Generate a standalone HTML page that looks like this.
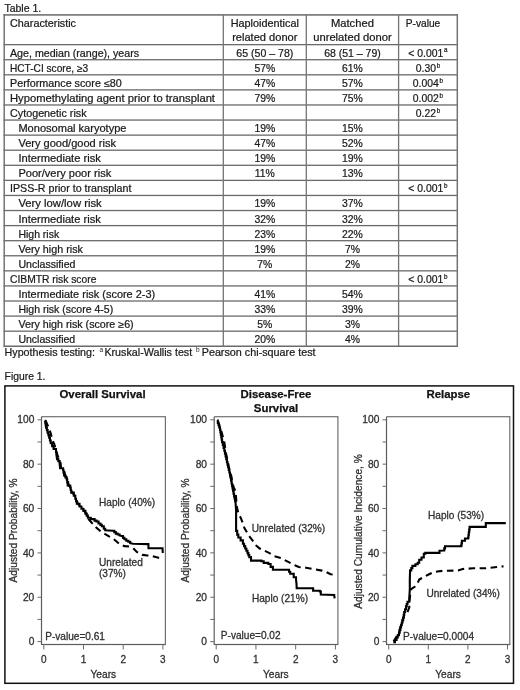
<!DOCTYPE html>
<html><head><meta charset="utf-8"><title>Table 1 and Figure 1</title>
<style>
html,body{margin:0;padding:0;background:#fff;}
body{width:520px;height:690px;overflow:hidden;}
svg{display:block;font-family:"Liberation Sans", sans-serif;will-change:transform;}
</style></head>
<body>
<svg width="520" height="690" viewBox="0 0 520 690">
<rect width="520" height="690" fill="#fff"/>
<rect x="3.5" y="14.05" width="454.5" height="1.7" fill="#7a7a7a"/>
<rect x="3.5" y="44.00" width="454.5" height="1.3" fill="#6a6a6a"/>
<rect x="3.5" y="59.08" width="454.5" height="1.3" fill="#6a6a6a"/>
<rect x="3.5" y="74.16" width="454.5" height="1.3" fill="#6a6a6a"/>
<rect x="3.5" y="89.24" width="454.5" height="1.3" fill="#6a6a6a"/>
<rect x="3.5" y="104.32" width="454.5" height="1.3" fill="#6a6a6a"/>
<rect x="3.5" y="119.40" width="454.5" height="1.3" fill="#6a6a6a"/>
<rect x="3.5" y="134.48" width="454.5" height="1.3" fill="#6a6a6a"/>
<rect x="3.5" y="149.56" width="454.5" height="1.3" fill="#6a6a6a"/>
<rect x="3.5" y="164.64" width="454.5" height="1.3" fill="#6a6a6a"/>
<rect x="3.5" y="179.72" width="454.5" height="1.3" fill="#6a6a6a"/>
<rect x="3.5" y="194.80" width="454.5" height="1.3" fill="#6a6a6a"/>
<rect x="3.5" y="209.88" width="454.5" height="1.3" fill="#6a6a6a"/>
<rect x="3.5" y="224.96" width="454.5" height="1.3" fill="#6a6a6a"/>
<rect x="3.5" y="240.04" width="454.5" height="1.3" fill="#6a6a6a"/>
<rect x="3.5" y="255.12" width="454.5" height="1.3" fill="#6a6a6a"/>
<rect x="3.5" y="270.20" width="454.5" height="1.3" fill="#6a6a6a"/>
<rect x="3.5" y="285.28" width="454.5" height="1.3" fill="#6a6a6a"/>
<rect x="3.5" y="300.36" width="454.5" height="1.3" fill="#6a6a6a"/>
<rect x="3.5" y="315.44" width="454.5" height="1.3" fill="#6a6a6a"/>
<rect x="3.5" y="330.52" width="454.5" height="1.3" fill="#6a6a6a"/>
<rect x="3.5" y="345.50" width="454.5" height="1.5" fill="#6a6a6a"/>
<rect x="222.65" y="14.9" width="1.3" height="331.35" fill="#747474"/>
<rect x="305.65" y="14.9" width="1.3" height="331.35" fill="#747474"/>
<rect x="397.95" y="14.9" width="1.3" height="331.35" fill="#747474"/>
<rect x="3.45" y="14.0" width="1.5" height="333.05" fill="#747474"/>
<rect x="456.55" y="14.0" width="1.5" height="333.05" fill="#747474"/>
<text x="10" y="26.6" font-size="10.1" text-anchor="start" fill="#1a1a1a" font-weight="normal" textLength="66" lengthAdjust="spacingAndGlyphs" stroke="#1a1a1a" stroke-width="0.22">Characteristic</text>
<text x="264.8" y="26.6" font-size="10.1" text-anchor="middle" fill="#1a1a1a" font-weight="normal" textLength="68.2" lengthAdjust="spacingAndGlyphs" stroke="#1a1a1a" stroke-width="0.22">Haploidentical</text>
<text x="264.8" y="41.2" font-size="10.1" text-anchor="middle" fill="#1a1a1a" font-weight="normal" textLength="65.3" lengthAdjust="spacingAndGlyphs" stroke="#1a1a1a" stroke-width="0.22">related donor</text>
<text x="352.45000000000005" y="26.6" font-size="10.1" text-anchor="middle" fill="#1a1a1a" font-weight="normal" textLength="43" lengthAdjust="spacingAndGlyphs" stroke="#1a1a1a" stroke-width="0.22">Matched</text>
<text x="352.45000000000005" y="41.2" font-size="10.1" text-anchor="middle" fill="#1a1a1a" font-weight="normal" textLength="78.5" lengthAdjust="spacingAndGlyphs" stroke="#1a1a1a" stroke-width="0.22">unrelated donor</text>
<text x="405.7" y="26.6" font-size="10.1" text-anchor="start" fill="#1a1a1a" font-weight="normal" textLength="34.6" lengthAdjust="spacingAndGlyphs" stroke="#1a1a1a" stroke-width="0.22">P-value</text>
<text x="10" y="56.65" font-size="10.1" text-anchor="start" fill="#1a1a1a" font-weight="normal" textLength="129.1" lengthAdjust="spacingAndGlyphs" stroke="#1a1a1a" stroke-width="0.22">Age, median (range), years</text>
<text x="264.8" y="56.65" font-size="10.4" text-anchor="middle" fill="#1a1a1a" font-weight="normal" textLength="57.1" lengthAdjust="spacingAndGlyphs" stroke="#1a1a1a" stroke-width="0.22">65 (50 – 78)</text>
<text x="352.45000000000005" y="56.65" font-size="10.4" text-anchor="middle" fill="#1a1a1a" font-weight="normal" textLength="56.6" lengthAdjust="spacingAndGlyphs" stroke="#1a1a1a" stroke-width="0.22">68 (51 – 79)</text>
<text x="427.95000000000005" y="56.65" font-size="10.4" text-anchor="middle" fill="#1a1a1a" font-weight="normal" stroke="#1a1a1a" stroke-width="0.22">&lt; 0.001<tspan dx="0.7" dy="-4.2" font-size="6.3">a</tspan></text>
<text x="10" y="71.73" font-size="10.1" text-anchor="start" fill="#1a1a1a" font-weight="normal" textLength="78.1" lengthAdjust="spacingAndGlyphs" stroke="#1a1a1a" stroke-width="0.22">HCT-CI score, ≥3</text>
<text x="264.8" y="71.73" font-size="10.4" text-anchor="middle" fill="#1a1a1a" font-weight="normal" stroke="#1a1a1a" stroke-width="0.22">57%</text>
<text x="352.45000000000005" y="71.73" font-size="10.4" text-anchor="middle" fill="#1a1a1a" font-weight="normal" stroke="#1a1a1a" stroke-width="0.22">61%</text>
<text x="427.95000000000005" y="71.73" font-size="10.4" text-anchor="middle" fill="#1a1a1a" font-weight="normal" stroke="#1a1a1a" stroke-width="0.22">0.30<tspan dx="0.7" dy="-4.2" font-size="6.3">b</tspan></text>
<text x="10" y="86.81" font-size="10.1" text-anchor="start" fill="#1a1a1a" font-weight="normal" textLength="111.8" lengthAdjust="spacingAndGlyphs" stroke="#1a1a1a" stroke-width="0.22">Performance score ≤80</text>
<text x="264.8" y="86.81" font-size="10.4" text-anchor="middle" fill="#1a1a1a" font-weight="normal" stroke="#1a1a1a" stroke-width="0.22">47%</text>
<text x="352.45000000000005" y="86.81" font-size="10.4" text-anchor="middle" fill="#1a1a1a" font-weight="normal" stroke="#1a1a1a" stroke-width="0.22">57%</text>
<text x="427.95000000000005" y="86.81" font-size="10.4" text-anchor="middle" fill="#1a1a1a" font-weight="normal" stroke="#1a1a1a" stroke-width="0.22">0.004<tspan dx="0.7" dy="-4.2" font-size="6.3">b</tspan></text>
<text x="10" y="101.89" font-size="10.1" text-anchor="start" fill="#1a1a1a" font-weight="normal" textLength="205" lengthAdjust="spacingAndGlyphs" stroke="#1a1a1a" stroke-width="0.22">Hypomethylating agent prior to transplant</text>
<text x="264.8" y="101.89" font-size="10.4" text-anchor="middle" fill="#1a1a1a" font-weight="normal" stroke="#1a1a1a" stroke-width="0.22">79%</text>
<text x="352.45000000000005" y="101.89" font-size="10.4" text-anchor="middle" fill="#1a1a1a" font-weight="normal" stroke="#1a1a1a" stroke-width="0.22">75%</text>
<text x="427.95000000000005" y="101.89" font-size="10.4" text-anchor="middle" fill="#1a1a1a" font-weight="normal" stroke="#1a1a1a" stroke-width="0.22">0.002<tspan dx="0.7" dy="-4.2" font-size="6.3">b</tspan></text>
<text x="10" y="116.97" font-size="10.1" text-anchor="start" fill="#1a1a1a" font-weight="normal" textLength="76.6" lengthAdjust="spacingAndGlyphs" stroke="#1a1a1a" stroke-width="0.22">Cytogenetic risk</text>
<text x="427.95000000000005" y="116.97" font-size="10.4" text-anchor="middle" fill="#1a1a1a" font-weight="normal" stroke="#1a1a1a" stroke-width="0.22">0.22<tspan dx="0.7" dy="-4.2" font-size="6.3">b</tspan></text>
<text x="18.4" y="132.05" font-size="10.1" text-anchor="start" fill="#1a1a1a" font-weight="normal" textLength="108.1" lengthAdjust="spacingAndGlyphs" stroke="#1a1a1a" stroke-width="0.22">Monosomal karyotype</text>
<text x="264.8" y="132.05" font-size="10.4" text-anchor="middle" fill="#1a1a1a" font-weight="normal" stroke="#1a1a1a" stroke-width="0.22">19%</text>
<text x="352.45000000000005" y="132.05" font-size="10.4" text-anchor="middle" fill="#1a1a1a" font-weight="normal" stroke="#1a1a1a" stroke-width="0.22">15%</text>
<text x="18.4" y="147.13" font-size="10.1" text-anchor="start" fill="#1a1a1a" font-weight="normal" textLength="97.6" lengthAdjust="spacingAndGlyphs" stroke="#1a1a1a" stroke-width="0.22">Very good/good risk</text>
<text x="264.8" y="147.13" font-size="10.4" text-anchor="middle" fill="#1a1a1a" font-weight="normal" stroke="#1a1a1a" stroke-width="0.22">47%</text>
<text x="352.45000000000005" y="147.13" font-size="10.4" text-anchor="middle" fill="#1a1a1a" font-weight="normal" stroke="#1a1a1a" stroke-width="0.22">52%</text>
<text x="18.4" y="162.21" font-size="10.1" text-anchor="start" fill="#1a1a1a" font-weight="normal" textLength="82.5" lengthAdjust="spacingAndGlyphs" stroke="#1a1a1a" stroke-width="0.22">Intermediate risk</text>
<text x="264.8" y="162.21" font-size="10.4" text-anchor="middle" fill="#1a1a1a" font-weight="normal" stroke="#1a1a1a" stroke-width="0.22">19%</text>
<text x="352.45000000000005" y="162.21" font-size="10.4" text-anchor="middle" fill="#1a1a1a" font-weight="normal" stroke="#1a1a1a" stroke-width="0.22">19%</text>
<text x="18.4" y="177.29" font-size="10.1" text-anchor="start" fill="#1a1a1a" font-weight="normal" textLength="92.8" lengthAdjust="spacingAndGlyphs" stroke="#1a1a1a" stroke-width="0.22">Poor/very poor risk</text>
<text x="264.8" y="177.29" font-size="10.4" text-anchor="middle" fill="#1a1a1a" font-weight="normal" stroke="#1a1a1a" stroke-width="0.22">11%</text>
<text x="352.45000000000005" y="177.29" font-size="10.4" text-anchor="middle" fill="#1a1a1a" font-weight="normal" stroke="#1a1a1a" stroke-width="0.22">13%</text>
<text x="10" y="192.37" font-size="10.1" text-anchor="start" fill="#1a1a1a" font-weight="normal" textLength="121.4" lengthAdjust="spacingAndGlyphs" stroke="#1a1a1a" stroke-width="0.22">IPSS-R prior to transplant</text>
<text x="427.95000000000005" y="192.37" font-size="10.4" text-anchor="middle" fill="#1a1a1a" font-weight="normal" stroke="#1a1a1a" stroke-width="0.22">&lt; 0.001<tspan dx="0.7" dy="-4.2" font-size="6.3">b</tspan></text>
<text x="18.4" y="207.45" font-size="10.1" text-anchor="start" fill="#1a1a1a" font-weight="normal" textLength="83.3" lengthAdjust="spacingAndGlyphs" stroke="#1a1a1a" stroke-width="0.22">Very low/low risk</text>
<text x="264.8" y="207.45" font-size="10.4" text-anchor="middle" fill="#1a1a1a" font-weight="normal" stroke="#1a1a1a" stroke-width="0.22">19%</text>
<text x="352.45000000000005" y="207.45" font-size="10.4" text-anchor="middle" fill="#1a1a1a" font-weight="normal" stroke="#1a1a1a" stroke-width="0.22">37%</text>
<text x="18.4" y="222.53" font-size="10.1" text-anchor="start" fill="#1a1a1a" font-weight="normal" textLength="82.5" lengthAdjust="spacingAndGlyphs" stroke="#1a1a1a" stroke-width="0.22">Intermediate risk</text>
<text x="264.8" y="222.53" font-size="10.4" text-anchor="middle" fill="#1a1a1a" font-weight="normal" stroke="#1a1a1a" stroke-width="0.22">32%</text>
<text x="352.45000000000005" y="222.53" font-size="10.4" text-anchor="middle" fill="#1a1a1a" font-weight="normal" stroke="#1a1a1a" stroke-width="0.22">32%</text>
<text x="18.4" y="237.61" font-size="10.1" text-anchor="start" fill="#1a1a1a" font-weight="normal" textLength="40.8" lengthAdjust="spacingAndGlyphs" stroke="#1a1a1a" stroke-width="0.22">High risk</text>
<text x="264.8" y="237.61" font-size="10.4" text-anchor="middle" fill="#1a1a1a" font-weight="normal" stroke="#1a1a1a" stroke-width="0.22">23%</text>
<text x="352.45000000000005" y="237.61" font-size="10.4" text-anchor="middle" fill="#1a1a1a" font-weight="normal" stroke="#1a1a1a" stroke-width="0.22">22%</text>
<text x="18.4" y="252.69" font-size="10.1" text-anchor="start" fill="#1a1a1a" font-weight="normal" textLength="64.5" lengthAdjust="spacingAndGlyphs" stroke="#1a1a1a" stroke-width="0.22">Very high risk</text>
<text x="264.8" y="252.69" font-size="10.4" text-anchor="middle" fill="#1a1a1a" font-weight="normal" stroke="#1a1a1a" stroke-width="0.22">19%</text>
<text x="352.45000000000005" y="252.69" font-size="10.4" text-anchor="middle" fill="#1a1a1a" font-weight="normal" stroke="#1a1a1a" stroke-width="0.22">7%</text>
<text x="18.4" y="267.77" font-size="10.1" text-anchor="start" fill="#1a1a1a" font-weight="normal" textLength="57.0" lengthAdjust="spacingAndGlyphs" stroke="#1a1a1a" stroke-width="0.22">Unclassified</text>
<text x="264.8" y="267.77" font-size="10.4" text-anchor="middle" fill="#1a1a1a" font-weight="normal" stroke="#1a1a1a" stroke-width="0.22">7%</text>
<text x="352.45000000000005" y="267.77" font-size="10.4" text-anchor="middle" fill="#1a1a1a" font-weight="normal" stroke="#1a1a1a" stroke-width="0.22">2%</text>
<text x="10" y="282.85" font-size="10.1" text-anchor="start" fill="#1a1a1a" font-weight="normal" textLength="86.4" lengthAdjust="spacingAndGlyphs" stroke="#1a1a1a" stroke-width="0.22">CIBMTR risk score</text>
<text x="427.95000000000005" y="282.85" font-size="10.4" text-anchor="middle" fill="#1a1a1a" font-weight="normal" stroke="#1a1a1a" stroke-width="0.22">&lt; 0.001<tspan dx="0.7" dy="-4.2" font-size="6.3">b</tspan></text>
<text x="18.4" y="297.93" font-size="10.1" text-anchor="start" fill="#1a1a1a" font-weight="normal" textLength="136.8" lengthAdjust="spacingAndGlyphs" stroke="#1a1a1a" stroke-width="0.22">Intermediate risk (score 2-3)</text>
<text x="264.8" y="297.93" font-size="10.4" text-anchor="middle" fill="#1a1a1a" font-weight="normal" stroke="#1a1a1a" stroke-width="0.22">41%</text>
<text x="352.45000000000005" y="297.93" font-size="10.4" text-anchor="middle" fill="#1a1a1a" font-weight="normal" stroke="#1a1a1a" stroke-width="0.22">54%</text>
<text x="18.4" y="313.01" font-size="10.1" text-anchor="start" fill="#1a1a1a" font-weight="normal" textLength="94.8" lengthAdjust="spacingAndGlyphs" stroke="#1a1a1a" stroke-width="0.22">High risk (score 4-5)</text>
<text x="264.8" y="313.01" font-size="10.4" text-anchor="middle" fill="#1a1a1a" font-weight="normal" stroke="#1a1a1a" stroke-width="0.22">33%</text>
<text x="352.45000000000005" y="313.01" font-size="10.4" text-anchor="middle" fill="#1a1a1a" font-weight="normal" stroke="#1a1a1a" stroke-width="0.22">39%</text>
<text x="18.4" y="328.09" font-size="10.1" text-anchor="start" fill="#1a1a1a" font-weight="normal" textLength="115.3" lengthAdjust="spacingAndGlyphs" stroke="#1a1a1a" stroke-width="0.22">Very high risk (score ≥6)</text>
<text x="264.8" y="328.09" font-size="10.4" text-anchor="middle" fill="#1a1a1a" font-weight="normal" stroke="#1a1a1a" stroke-width="0.22">5%</text>
<text x="352.45000000000005" y="328.09" font-size="10.4" text-anchor="middle" fill="#1a1a1a" font-weight="normal" stroke="#1a1a1a" stroke-width="0.22">3%</text>
<text x="18.4" y="343.17" font-size="10.1" text-anchor="start" fill="#1a1a1a" font-weight="normal" textLength="56.8" lengthAdjust="spacingAndGlyphs" stroke="#1a1a1a" stroke-width="0.22">Unclassified</text>
<text x="264.8" y="343.17" font-size="10.4" text-anchor="middle" fill="#1a1a1a" font-weight="normal" stroke="#1a1a1a" stroke-width="0.22">20%</text>
<text x="352.45000000000005" y="343.17" font-size="10.4" text-anchor="middle" fill="#1a1a1a" font-weight="normal" stroke="#1a1a1a" stroke-width="0.22">4%</text>
<text x="4.6" y="355.6" font-size="10.1" text-anchor="start" fill="#1a1a1a" font-weight="normal" textLength="90.4" lengthAdjust="spacingAndGlyphs" stroke="#1a1a1a" stroke-width="0.22">Hypothesis testing:</text>
<text x="99.6" y="352.0" font-size="6.5" text-anchor="start" fill="#1a1a1a" font-weight="normal" >a</text>
<text x="104.4" y="355.6" font-size="10.1" text-anchor="start" fill="#1a1a1a" font-weight="normal" textLength="87.8" lengthAdjust="spacingAndGlyphs" stroke="#1a1a1a" stroke-width="0.22">Kruskal-Wallis test</text>
<text x="196.1" y="352.0" font-size="6.5" text-anchor="start" fill="#1a1a1a" font-weight="normal" >b</text>
<text x="201.7" y="355.6" font-size="10.1" text-anchor="start" fill="#1a1a1a" font-weight="normal" textLength="113.9" lengthAdjust="spacingAndGlyphs" stroke="#1a1a1a" stroke-width="0.22">Pearson chi-square test</text>
<text x="4.4" y="11.5" font-size="10.1" text-anchor="start" fill="#1a1a1a" font-weight="normal" textLength="36.9" lengthAdjust="spacingAndGlyphs" stroke="#1a1a1a" stroke-width="0.22">Table 1.</text>
<text x="4.6" y="379.8" font-size="10.1" text-anchor="start" fill="#1a1a1a" font-weight="normal" textLength="40.8" lengthAdjust="spacingAndGlyphs" stroke="#1a1a1a" stroke-width="0.22">Figure 1.</text>
<rect x="4.9" y="385.9" width="508.6" height="297.4" fill="none" stroke="#111" stroke-width="1.5"/>
<rect x="40.90" y="416.7" width="1.2" height="228.3" fill="#5c5c5c"/>
<rect x="41.5" y="643.90" width="124.4" height="1.2" fill="#5c5c5c"/>
<rect x="41.5" y="416.10" width="124.4" height="1.2" fill="#707070"/>
<rect x="164.80" y="416.7" width="1.2" height="227.8" fill="#707070"/>
<rect x="37.5" y="641.10" width="4.0" height="1.0" fill="#6a6a6a"/>
<text x="34.3" y="645.2" font-size="10.2" text-anchor="end" fill="#333" font-weight="normal"  stroke="#2a2a2a" stroke-width="0.28">0</text>
<rect x="37.5" y="618.92" width="4.0" height="1.0" fill="#6a6a6a"/>
<rect x="37.5" y="596.74" width="4.0" height="1.0" fill="#6a6a6a"/>
<text x="34.3" y="600.8" font-size="10.2" text-anchor="end" fill="#333" font-weight="normal"  stroke="#2a2a2a" stroke-width="0.28">20</text>
<rect x="37.5" y="574.56" width="4.0" height="1.0" fill="#6a6a6a"/>
<rect x="37.5" y="552.38" width="4.0" height="1.0" fill="#6a6a6a"/>
<text x="34.3" y="556.5" font-size="10.2" text-anchor="end" fill="#333" font-weight="normal"  stroke="#2a2a2a" stroke-width="0.28">40</text>
<rect x="37.5" y="530.20" width="4.0" height="1.0" fill="#6a6a6a"/>
<rect x="37.5" y="508.02" width="4.0" height="1.0" fill="#6a6a6a"/>
<text x="34.3" y="512.1" font-size="10.2" text-anchor="end" fill="#333" font-weight="normal"  stroke="#2a2a2a" stroke-width="0.28">60</text>
<rect x="37.5" y="485.84" width="4.0" height="1.0" fill="#6a6a6a"/>
<rect x="37.5" y="463.66" width="4.0" height="1.0" fill="#6a6a6a"/>
<text x="34.3" y="467.8" font-size="10.2" text-anchor="end" fill="#333" font-weight="normal"  stroke="#2a2a2a" stroke-width="0.28">80</text>
<rect x="37.5" y="441.48" width="4.0" height="1.0" fill="#6a6a6a"/>
<rect x="37.5" y="419.30" width="4.0" height="1.0" fill="#6a6a6a"/>
<text x="34.3" y="423.4" font-size="10.2" text-anchor="end" fill="#333" font-weight="normal"  stroke="#2a2a2a" stroke-width="0.28">100</text>
<rect x="43.30" y="644.5" width="1.0" height="5.0" fill="#6a6a6a"/>
<text x="43.8" y="662.6" font-size="10.0" text-anchor="middle" fill="#333" font-weight="normal"  stroke="#2a2a2a" stroke-width="0.28">0</text>
<rect x="83.00" y="644.5" width="1.0" height="5.0" fill="#6a6a6a"/>
<text x="83.5" y="662.6" font-size="10.0" text-anchor="middle" fill="#333" font-weight="normal"  stroke="#2a2a2a" stroke-width="0.28">1</text>
<rect x="122.70" y="644.5" width="1.0" height="5.0" fill="#6a6a6a"/>
<text x="123.2" y="662.6" font-size="10.0" text-anchor="middle" fill="#333" font-weight="normal"  stroke="#2a2a2a" stroke-width="0.28">2</text>
<rect x="162.40" y="644.5" width="1.0" height="5.0" fill="#6a6a6a"/>
<text x="162.9" y="662.6" font-size="10.0" text-anchor="middle" fill="#333" font-weight="normal"  stroke="#2a2a2a" stroke-width="0.28">3</text>
<text x="103.3" y="677.9" font-size="10.2" text-anchor="middle" fill="#333" font-weight="normal"  stroke="#2a2a2a" stroke-width="0.28">Years</text>
<rect x="213.60" y="416.7" width="1.2" height="228.3" fill="#5c5c5c"/>
<rect x="214.2" y="643.90" width="124.19999999999999" height="1.2" fill="#5c5c5c"/>
<rect x="214.2" y="416.10" width="124.19999999999999" height="1.2" fill="#707070"/>
<rect x="337.30" y="416.7" width="1.2" height="227.8" fill="#707070"/>
<rect x="210.2" y="641.10" width="4.0" height="1.0" fill="#6a6a6a"/>
<text x="207.0" y="645.2" font-size="10.2" text-anchor="end" fill="#333" font-weight="normal"  stroke="#2a2a2a" stroke-width="0.28">0</text>
<rect x="210.2" y="618.92" width="4.0" height="1.0" fill="#6a6a6a"/>
<rect x="210.2" y="596.74" width="4.0" height="1.0" fill="#6a6a6a"/>
<text x="207.0" y="600.8" font-size="10.2" text-anchor="end" fill="#333" font-weight="normal"  stroke="#2a2a2a" stroke-width="0.28">20</text>
<rect x="210.2" y="574.56" width="4.0" height="1.0" fill="#6a6a6a"/>
<rect x="210.2" y="552.38" width="4.0" height="1.0" fill="#6a6a6a"/>
<text x="207.0" y="556.5" font-size="10.2" text-anchor="end" fill="#333" font-weight="normal"  stroke="#2a2a2a" stroke-width="0.28">40</text>
<rect x="210.2" y="530.20" width="4.0" height="1.0" fill="#6a6a6a"/>
<rect x="210.2" y="508.02" width="4.0" height="1.0" fill="#6a6a6a"/>
<text x="207.0" y="512.1" font-size="10.2" text-anchor="end" fill="#333" font-weight="normal"  stroke="#2a2a2a" stroke-width="0.28">60</text>
<rect x="210.2" y="485.84" width="4.0" height="1.0" fill="#6a6a6a"/>
<rect x="210.2" y="463.66" width="4.0" height="1.0" fill="#6a6a6a"/>
<text x="207.0" y="467.8" font-size="10.2" text-anchor="end" fill="#333" font-weight="normal"  stroke="#2a2a2a" stroke-width="0.28">80</text>
<rect x="210.2" y="441.48" width="4.0" height="1.0" fill="#6a6a6a"/>
<rect x="210.2" y="419.30" width="4.0" height="1.0" fill="#6a6a6a"/>
<text x="207.0" y="423.4" font-size="10.2" text-anchor="end" fill="#333" font-weight="normal"  stroke="#2a2a2a" stroke-width="0.28">100</text>
<rect x="215.70" y="644.5" width="1.0" height="5.0" fill="#6a6a6a"/>
<text x="216.2" y="662.6" font-size="10.0" text-anchor="middle" fill="#333" font-weight="normal"  stroke="#2a2a2a" stroke-width="0.28">0</text>
<rect x="255.43" y="644.5" width="1.0" height="5.0" fill="#6a6a6a"/>
<text x="255.9" y="662.6" font-size="10.0" text-anchor="middle" fill="#333" font-weight="normal"  stroke="#2a2a2a" stroke-width="0.28">1</text>
<rect x="295.17" y="644.5" width="1.0" height="5.0" fill="#6a6a6a"/>
<text x="295.7" y="662.6" font-size="10.0" text-anchor="middle" fill="#333" font-weight="normal"  stroke="#2a2a2a" stroke-width="0.28">2</text>
<rect x="334.90" y="644.5" width="1.0" height="5.0" fill="#6a6a6a"/>
<text x="335.4" y="662.6" font-size="10.0" text-anchor="middle" fill="#333" font-weight="normal"  stroke="#2a2a2a" stroke-width="0.28">3</text>
<text x="275.8" y="677.9" font-size="10.2" text-anchor="middle" fill="#333" font-weight="normal"  stroke="#2a2a2a" stroke-width="0.28">Years</text>
<rect x="385.90" y="416.7" width="1.2" height="228.3" fill="#5c5c5c"/>
<rect x="386.5" y="643.90" width="123.80000000000001" height="1.2" fill="#5c5c5c"/>
<rect x="386.5" y="416.10" width="123.80000000000001" height="1.2" fill="#707070"/>
<rect x="509.20" y="416.7" width="1.2" height="227.8" fill="#707070"/>
<rect x="382.5" y="641.10" width="4.0" height="1.0" fill="#6a6a6a"/>
<text x="379.3" y="645.2" font-size="10.2" text-anchor="end" fill="#333" font-weight="normal"  stroke="#2a2a2a" stroke-width="0.28">0</text>
<rect x="382.5" y="618.92" width="4.0" height="1.0" fill="#6a6a6a"/>
<rect x="382.5" y="596.74" width="4.0" height="1.0" fill="#6a6a6a"/>
<text x="379.3" y="600.8" font-size="10.2" text-anchor="end" fill="#333" font-weight="normal"  stroke="#2a2a2a" stroke-width="0.28">20</text>
<rect x="382.5" y="574.56" width="4.0" height="1.0" fill="#6a6a6a"/>
<rect x="382.5" y="552.38" width="4.0" height="1.0" fill="#6a6a6a"/>
<text x="379.3" y="556.5" font-size="10.2" text-anchor="end" fill="#333" font-weight="normal"  stroke="#2a2a2a" stroke-width="0.28">40</text>
<rect x="382.5" y="530.20" width="4.0" height="1.0" fill="#6a6a6a"/>
<rect x="382.5" y="508.02" width="4.0" height="1.0" fill="#6a6a6a"/>
<text x="379.3" y="512.1" font-size="10.2" text-anchor="end" fill="#333" font-weight="normal"  stroke="#2a2a2a" stroke-width="0.28">60</text>
<rect x="382.5" y="485.84" width="4.0" height="1.0" fill="#6a6a6a"/>
<rect x="382.5" y="463.66" width="4.0" height="1.0" fill="#6a6a6a"/>
<text x="379.3" y="467.8" font-size="10.2" text-anchor="end" fill="#333" font-weight="normal"  stroke="#2a2a2a" stroke-width="0.28">80</text>
<rect x="382.5" y="441.48" width="4.0" height="1.0" fill="#6a6a6a"/>
<rect x="382.5" y="419.30" width="4.0" height="1.0" fill="#6a6a6a"/>
<text x="379.3" y="423.4" font-size="10.2" text-anchor="end" fill="#333" font-weight="normal"  stroke="#2a2a2a" stroke-width="0.28">100</text>
<rect x="388.20" y="644.5" width="1.0" height="5.0" fill="#6a6a6a"/>
<text x="388.7" y="662.6" font-size="10.0" text-anchor="middle" fill="#333" font-weight="normal"  stroke="#2a2a2a" stroke-width="0.28">0</text>
<rect x="427.80" y="644.5" width="1.0" height="5.0" fill="#6a6a6a"/>
<text x="428.3" y="662.6" font-size="10.0" text-anchor="middle" fill="#333" font-weight="normal"  stroke="#2a2a2a" stroke-width="0.28">1</text>
<rect x="467.40" y="644.5" width="1.0" height="5.0" fill="#6a6a6a"/>
<text x="467.9" y="662.6" font-size="10.0" text-anchor="middle" fill="#333" font-weight="normal"  stroke="#2a2a2a" stroke-width="0.28">2</text>
<rect x="507.00" y="644.5" width="1.0" height="5.0" fill="#6a6a6a"/>
<text x="507.5" y="662.6" font-size="10.0" text-anchor="middle" fill="#333" font-weight="normal"  stroke="#2a2a2a" stroke-width="0.28">3</text>
<text x="448.1" y="677.9" font-size="10.2" text-anchor="middle" fill="#333" font-weight="normal"  stroke="#2a2a2a" stroke-width="0.28">Years</text>
<text x="0" y="0" font-size="10.2" text-anchor="middle" fill="#333" font-weight="normal" transform="translate(16.7,530.5) rotate(-90)" stroke="#2a2a2a" stroke-width="0.28">Adjusted Probability, %</text>
<text x="0" y="0" font-size="10.2" text-anchor="middle" fill="#333" font-weight="normal" transform="translate(189.4,530.5) rotate(-90)" stroke="#2a2a2a" stroke-width="0.28">Adjusted Probability, %</text>
<text x="0" y="0" font-size="10.2" text-anchor="middle" fill="#333" font-weight="normal" transform="translate(362,531.5) rotate(-90)" stroke="#2a2a2a" stroke-width="0.28">Adjusted Cumulative Incidence, %</text>
<text x="102.5" y="398.2" font-size="11.4" text-anchor="middle" fill="#111" font-weight="bold"  stroke="#111" stroke-width="0.25">Overall Survival</text>
<text x="276" y="397.7" font-size="11.4" text-anchor="middle" fill="#111" font-weight="bold"  stroke="#111" stroke-width="0.25">Disease-Free</text>
<text x="276" y="411.6" font-size="11.4" text-anchor="middle" fill="#111" font-weight="bold"  stroke="#111" stroke-width="0.25">Survival</text>
<text x="448.3" y="398.4" font-size="11.4" text-anchor="middle" fill="#111" font-weight="bold"  stroke="#111" stroke-width="0.25">Relapse</text>
<text x="99" y="506.2" font-size="10.1" text-anchor="start" fill="#333" font-weight="normal"  stroke="#2a2a2a" stroke-width="0.28">Haplo (40%)</text>
<text x="99" y="565.9" font-size="10.1" text-anchor="start" fill="#333" font-weight="normal"  stroke="#2a2a2a" stroke-width="0.28">Unrelated</text>
<text x="99" y="576.6" font-size="10.1" text-anchor="start" fill="#333" font-weight="normal"  stroke="#2a2a2a" stroke-width="0.28">(37%)</text>
<text x="45.2" y="639.6" font-size="10.1" text-anchor="start" fill="#333" font-weight="normal"  stroke="#2a2a2a" stroke-width="0.28">P-value=0.61</text>
<text x="251.7" y="532.4" font-size="10.1" text-anchor="start" fill="#333" font-weight="normal"  stroke="#2a2a2a" stroke-width="0.28">Unrelated (32%)</text>
<text x="251.9" y="601.5" font-size="10.1" text-anchor="start" fill="#333" font-weight="normal"  stroke="#2a2a2a" stroke-width="0.28">Haplo (21%)</text>
<text x="220.8" y="638.8" font-size="10.1" text-anchor="start" fill="#333" font-weight="normal"  stroke="#2a2a2a" stroke-width="0.28">P-value=0.02</text>
<text x="428" y="519.2" font-size="10.1" text-anchor="start" fill="#333" font-weight="normal"  stroke="#2a2a2a" stroke-width="0.28">Haplo (53%)</text>
<text x="426.4" y="596.8" font-size="10.1" text-anchor="start" fill="#333" font-weight="normal"  stroke="#2a2a2a" stroke-width="0.28">Unrelated (34%)</text>
<text x="403" y="639.5" font-size="10.1" text-anchor="start" fill="#333" font-weight="normal"  stroke="#2a2a2a" stroke-width="0.28">P-value=0.0004</text>
<polyline points="45.5,420.5 47.2,424.1 49.5,429.9 50.7,433.4 52.4,440.3 54.2,443.8 55.9,449.6 57.5,455 60.6,463.2 61.1,468.3 64.1,470.3 65.1,475.4 67.7,479.4 68.7,485.5 71.2,487.5 72.2,492.6 74.8,495.7 76.3,498.7 77.8,503.8 80.5,506.5 84.4,510.9 86.4,514 88.8,519.5 91.5,522.5 94.6,525.4 96.5,527.8 100.9,531.6 104.2,533.6 109,536.4 112.9,538.4 116.3,541.3 119.6,544.1 124.4,546.1 129.2,546.5 133.1,548 136.8,552 142.6,554.9 147.5,555.5 152.7,556.3 158.5,557.8 163.5,558.5" fill="none" stroke="#000" stroke-width="2.1" stroke-linejoin="miter" stroke-linecap="butt" stroke-dasharray="6.5,4.5"/>
<polyline points="44.6,420.5 44.9,420.9 45.3,420.9 45.3,423.13 45.7,423.13 45.7,425.37 46.1,425.37 46.1,427.6 46.87,427.6 46.87,430.1 47.63,430.1 47.63,432.6 48.4,432.6 48.4,435.1 49.17,435.1 49.17,437.8 49.93,437.8 49.93,440.5 50.7,440.5 50.7,443.2 52.15,443.2 52.15,446.1 53.6,446.1 53.6,449.0 56.0,449.0 56.0,452.0 56.33,452.0 56.33,454.37 56.67,454.37 56.67,456.73 57.0,456.73 57.0,459.1 58.3,459.1 58.3,461.15 59.6,461.15 59.6,463.2 60.1,468.3 63.1,468.3 63.1,470.3 63.6,470.3 63.6,472.85 64.1,472.85 64.1,475.4 65.4,475.4 65.4,477.4 66.7,477.4 66.7,479.4 67.2,479.4 67.2,482.45 67.7,482.45 67.7,485.5 70.2,485.5 70.2,487.5 70.7,487.5 70.7,490.05 71.2,490.05 71.2,492.6 73.8,492.6 73.8,495.7 75.3,495.7 75.3,498.7 76.05,498.7 76.05,501.25 76.8,501.25 76.8,503.8 79.5,503.8 79.5,506.5 81.45,506.5 81.45,508.7 83.4,508.7 83.4,510.9 85.4,510.9 85.4,513.6 86.65,513.6 86.65,515.65 87.9,515.65 87.9,517.7 90.8,517.7 90.8,519.1 94.6,519.1 94.6,520.6 96.5,520.6 96.5,521.5 98.5,521.5 98.5,523.5 100.4,523.5 100.4,524.9 101.8,524.9 101.8,526.3 103.8,526.3 103.8,528.8 105.2,528.8 105.2,530.2 112.9,530.7 114.3,530.7 114.3,532.1 115.8,532.1 115.8,533.6 117.7,533.6 117.7,534.5 119.6,534.5 119.6,535.5 121.5,536 123.0,536.0 123.0,537.9 124.4,537.9 124.4,539.3 126.3,539.3 126.3,540.8 128.3,540.8 128.3,541.7 130.2,541.7 130.2,543.2 133.1,543.7 148.4,544.1 148.5,548.3 162.5,548.3 162.8,553" fill="none" stroke="#000" stroke-width="2.1" stroke-linejoin="miter" stroke-linecap="butt"/>
<polyline points="217.6,420.5 219.5,426 221.7,432.5 224.3,442.1 226,453.4 228.7,466.4 231.5,477 232.1,481.2 233.6,487.2 235.6,491.3 236.1,498.4 236.7,505.5 237.2,508.6 238.7,514.6 240.7,517.7 242.7,522.8 244.3,527.8 246.3,531.2 249.8,536.9 253.3,541.5 256.2,545.6 259.7,548.5 264.8,550.8 269.5,553.1 274.1,556 279.8,557.7 284.5,560 290.2,562.9 296,565.8 298.8,567 306.1,567.7 313.3,569.1 321.9,570.6 326.2,572 330.6,574.2 335.6,574.9" fill="none" stroke="#000" stroke-width="2.1" stroke-linejoin="miter" stroke-linecap="butt" stroke-dasharray="6.5,4.5"/>
<polyline points="217.1,420.5 217.82,420.5 217.82,422.85 218.55,422.85 218.55,425.2 219.28,425.2 219.28,427.55 220.0,427.55 220.0,429.9 220.42,429.9 220.42,432.34 220.84,432.34 220.84,434.78 221.26,434.78 221.26,437.22 221.68,437.22 221.68,439.66 222.1,439.66 222.1,442.1 222.83,442.1 222.83,445.0 223.57,445.0 223.57,447.9 224.3,447.9 224.3,450.8 224.95,450.8 224.95,453.62 225.6,453.62 225.6,456.45 226.25,456.45 226.25,459.28 226.9,459.28 226.9,462.1 227.52,462.1 227.52,464.7 228.14,464.7 228.14,467.3 228.76,467.3 228.76,469.9 229.38,469.9 229.38,472.5 230.0,472.5 230.0,475.1 230.6,478.1 231.1,478.1 231.1,480.8 231.6,480.8 231.6,483.5 232.1,483.5 232.1,486.2 232.6,486.2 232.6,488.75 233.1,488.75 233.1,491.3 233.6,491.3 233.6,493.85 234.1,493.85 234.1,496.4 234.6,496.4 234.6,498.77 235.1,498.77 235.1,501.13 235.6,501.13 235.6,503.5 236.1,510.6 236.1,530.9 237.2,530.9 237.2,534.6 238.3,534.6 238.3,537.5 240.6,537.5 240.6,540.4 242.9,540.4 242.9,543.8 244.05,543.8 244.05,546.15 245.2,546.15 245.2,548.5 246.35,548.5 246.35,550.8 247.5,550.8 247.5,553.1 248.4,553.1 248.4,555.1 249.3,555.1 249.3,557.1 251.0,557.1 251.0,560.6 261.4,560.6 261.4,561.2 263.7,561.2 263.7,562.9 268.3,562.9 268.3,564.0 270.6,564.0 270.6,566.9 272.9,566.9 272.9,569.8 287.9,569.8 289.05,569.8 289.05,571.8 290.2,571.8 290.2,573.8 293.7,573.8 293.7,577.3 296.0,577.3 296.0,579.6 296.5,583.6 296.7,588.3 312.1,588.3 313.1,588.3 313.1,590.8 319.8,590.8 319.8,591.5 320.8,591.5 320.8,594.6 334.2,595 334.6,598.3" fill="none" stroke="#000" stroke-width="2.1" stroke-linejoin="miter" stroke-linecap="butt"/>
<polyline points="393.6,641.5 396.5,636.5 399.4,630.9 401.8,622.5 404.2,615.4 407,612.5 407.9,611.1 409.3,607.4 409.3,601.7 410.3,594.2 410.8,589.4 415,586.6 417.8,582.8 419.2,579.6 424.6,576.5 429.1,574.2 433.7,572 437.3,571.5 442.7,570.8 458.1,570.5 462.7,569 473.5,568.3 485.8,568.3 498.1,566.8 503.5,566.4" fill="none" stroke="#000" stroke-width="2.1" stroke-linejoin="miter" stroke-linecap="butt" stroke-dasharray="6.5,4.5"/>
<polyline points="393.3,642.3 394.95,642.3 394.95,639.9 396.6,639.9 396.6,637.5 397.8,637.5 397.8,635.15 399.0,635.15 399.0,632.8 399.7,632.8 399.7,630.0 400.4,630.0 400.4,627.2 401.1,627.2 401.1,624.85 401.8,624.85 401.8,622.5 402.5,622.5 402.5,620.1 403.2,620.1 403.2,617.7 403.7,617.7 403.7,614.9 404.2,614.9 404.2,612.1 405.1,612.1 405.1,609.25 406.0,609.25 406.0,606.4 406.75,606.4 406.75,604.05 407.5,604.05 407.5,601.7 409.3,601.7 409.3,597.9 409.8,589.4 409.8,580 410.1,570.4 411.25,570.4 411.25,568.15 412.4,568.15 412.4,565.9 415.4,565.9 415.4,564.3 417.7,564.3 417.7,562.8 419.2,562.8 419.2,559.8 421.5,559.8 421.5,557.5 423.8,557.5 423.8,553.7 425.3,553.7 425.3,552.9 438.5,552.9 439.5,552.9 439.5,550.8 443.5,550.5 444.25,550.5 444.25,548.35 445.0,548.35 445.0,546.2 461.2,546.2 461.2,545.4 461.55,545.4 461.55,543.1 461.9,543.1 461.9,540.8 465.0,540.8 465.0,538.5 468.1,538.5 468.1,537.7 468.45,537.7 468.45,535.0 468.8,535.0 468.8,532.3 469.2,532.3 469.2,529.6 469.6,529.6 469.6,526.9 484.2,526.9 485.8,526.9 485.8,523.1 505.8,523.1" fill="none" stroke="#000" stroke-width="2.1" stroke-linejoin="miter" stroke-linecap="butt"/>
</svg>
</body></html>
